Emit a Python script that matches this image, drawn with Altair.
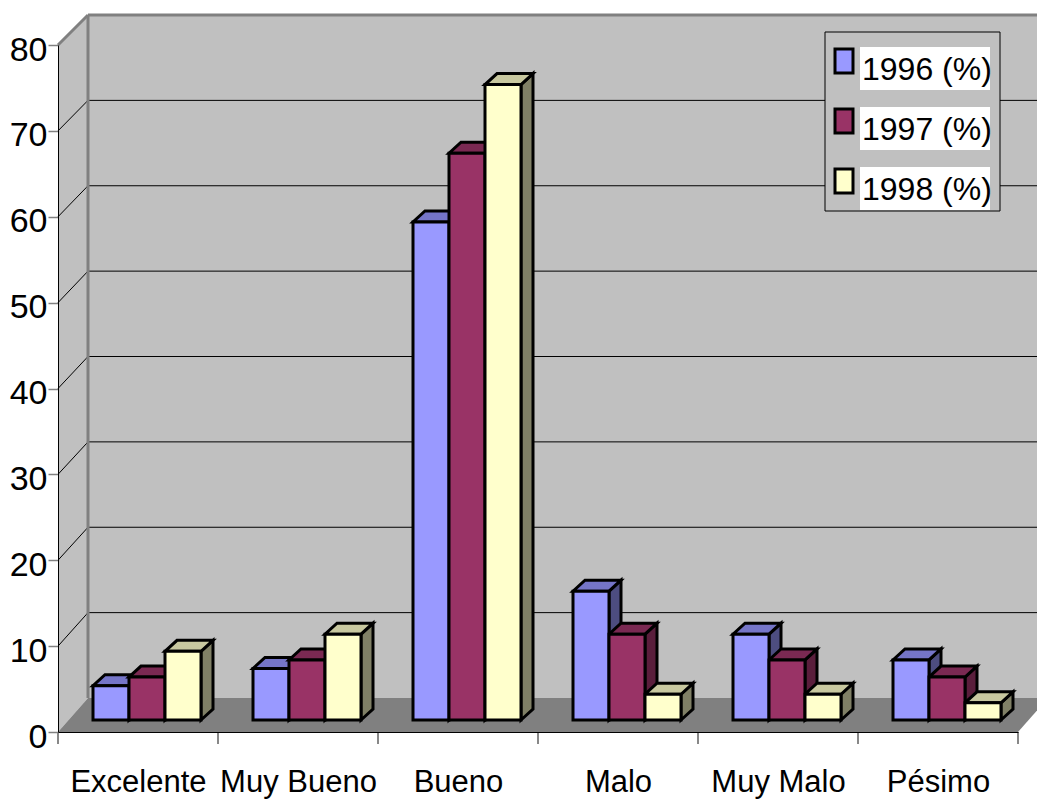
import altair as alt
import pandas as pd

# Survey answers per year (percent of respondents)
categories = ["Excelente", "Muy Bueno", "Bueno", "Malo", "Muy Malo", "Pésimo"]
years = ["1996 (%)", "1997 (%)", "1998 (%)"]
pct_1996 = [4, 6, 58, 15, 10, 7]
pct_1997 = [5, 7, 66, 10, 7, 5]
pct_1998 = [8, 10, 74, 3, 3, 2]
series = [pct_1996, pct_1997, pct_1998]
y_ticks = [0, 10, 20, 30, 40, 50, 60, 70, 80]

# face colours: front, lit top, shaded side
face_front = ["#9999FF", "#993366", "#FFFFCC"]
face_top = ["#7575C8", "#7A2952", "#C8C8A0"]
face_side = ["#4D4D80", "#5A1E3C", "#808066"]

FONT = "Liberation Sans, Arial, sans-serif"
WALL = "#C0C0C0"
FLOOR = "#808080"
EDGE = "#808080"

W, H = 960, 687
Y_MAX = 80
KY = H / Y_MAX                 # pixels per percent
STEP = W / len(categories)     # pixels per category


def ux(px):
    return px / STEP


def uy(px):
    return px / KY


# depth of the back wall (slightly stronger perspective near the floor)
WALL_DX = 30


def wall_dy(v):
    return 30 + 4 * (1 - v / Y_MAX)


BAR_W = 36
BAR_SHIFT_X, BAR_SHIFT_Y = 9, 12   # bars stand in the middle of the floor depth
BAR_DX, BAR_DY = 12, 11            # depth of each block
GROUP_PAD = (STEP - BAR_W * len(years)) / 2
OUTLINE = 3

xs = alt.Scale(domain=[0, len(categories)], nice=False, zero=False)
ys = alt.Scale(domain=[0, Y_MAX], nice=False, zero=False)

label_expr = "[" + ",".join(f"'{c}'" for c in categories) + "][floor(datum.value)]"

x_axis = alt.Axis(values=[i + 0.5 for i in range(len(categories))],
                  labelExpr=label_expr, ticks=False, grid=False, title=None,
                  domainColor="black", domainWidth=1, labelFont=FONT,
                  labelFontSize=31, labelColor="black", labelPadding=59,
                  labelBaseline="alphabetic", labelFlush=False,
                  labelOverlap=False, zindex=1)
y_axis = alt.Axis(values=y_ticks, grid=False, title=None, tickColor="#808080",
                  tickSize=10, tickWidth=1.5, domainColor="black", domainWidth=1,
                  labelFont=FONT, labelFontSize=34, labelColor="black",
                  labelPadding=1, labelOffset=5, labelFlush=False, zindex=1)


def enc_x(field="x"):
    return alt.X(f"{field}:Q", scale=xs, axis=x_axis)


def enc_y(field="y"):
    return alt.Y(f"{field}:Q", scale=ys, axis=y_axis, stack=None)


# ---- 3-D block faces -------------------------------------------------------
front_rows, side_rows, top_rows = [], [], []
for i, cat in enumerate(categories):
    for k, year in enumerate(years):
        v = series[k][i]
        xl = i + ux(GROUP_PAD + BAR_SHIFT_X + k * BAR_W)
        xr = xl + ux(BAR_W)
        yb = uy(BAR_SHIFT_Y)
        yt = v + yb
        dx, dy = ux(BAR_DX), uy(BAR_DY)
        bid = f"{i}-{k}"
        front_rows.append(dict(cat=cat, year=year, value=v, x=xl, x2=xr,
                               y=yb, y2=yt, fill=face_front[k]))
        side_rows += [
            dict(id=bid, x=xr, y=yb, y2=yt, fill=face_side[k]),
            dict(id=bid, x=xr + dx, y=yb + dy, y2=yt + dy, fill=face_side[k]),
        ]
        top_rows += [
            dict(id=bid, x=xl, y=yt, y2=yt, fill=face_top[k]),
            dict(id=bid, x=xl + dx, y=yt, y2=yt + dy, fill=face_top[k]),
            dict(id=bid, x=xr, y=yt, y2=yt + dy, fill=face_top[k]),
            dict(id=bid, x=xr + dx, y=yt + dy, y2=yt + dy, fill=face_top[k]),
        ]

front_df = pd.DataFrame(front_rows)
side_df = pd.DataFrame(side_rows)
top_df = pd.DataFrame(top_rows)

# ---- walls and floor -------------------------------------------------------
x_back = ux(WALL_DX)
x_far = len(categories) + ux(60)
top_back = Y_MAX + uy(wall_dy(Y_MAX))
floor_back = uy(wall_dy(0))

back_wall = pd.DataFrame([dict(x=x_back, x2=x_far, y=floor_back, y2=top_back)])
left_wall = pd.DataFrame([
    dict(id="w", x=0, y=0, y2=Y_MAX),
    dict(id="w", x=x_back, y=floor_back, y2=top_back),
])
floor = pd.DataFrame([
    dict(id="f", x=0, y=0, y2=0),
    dict(id="f", x=x_back, y=0, y2=floor_back),
    dict(id="f", x=len(categories), y=0, y2=floor_back),
    dict(id="f", x=len(categories) + x_back, y=floor_back, y2=floor_back),
])

grid_rows = []
for v in y_ticks[1:-1]:
    vb = v + uy(wall_dy(v))
    grid_rows.append(dict(x=0, x2=x_back, y=v, y2=vb))
    grid_rows.append(dict(x=x_back, x2=x_far, y=vb, y2=vb))
grid_df = pd.DataFrame(grid_rows)

edge_df = pd.DataFrame([
    dict(x=x_back, x2=x_back, y=floor_back, y2=top_back),
    dict(x=x_back, x2=x_far, y=top_back, y2=top_back),
    dict(x=0, x2=x_back, y=Y_MAX, y2=top_back),
])

# category boundary ticks below the floor edge
tick_df = pd.DataFrame([dict(x=b, x2=b, y=0, y2=-uy(12))
                        for b in range(len(categories) + 1)])

back_layer = alt.Chart(back_wall).mark_rect(fill=WALL).encode(
    x=enc_x(), x2="x2:Q", y=enc_y(), y2="y2:Q")

left_layer = alt.Chart(left_wall).mark_area(fill=WALL, orient="vertical").encode(
    x=enc_x(), y=enc_y(), y2="y2:Q", detail="id:N")

floor_layer = alt.Chart(floor).mark_area(fill=FLOOR, orient="vertical").encode(
    x=enc_x(), y=enc_y(), y2="y2:Q", detail="id:N")

grid_layer = alt.Chart(grid_df).mark_rule(color="black", strokeWidth=1).encode(
    x=enc_x(), x2="x2:Q", y=enc_y(), y2="y2:Q")

edge_layer = alt.Chart(edge_df).mark_rule(color=EDGE, strokeWidth=3).encode(
    x=enc_x(), x2="x2:Q", y=enc_y(), y2="y2:Q")

tick_layer = alt.Chart(tick_df).mark_rule(color="#606060", strokeWidth=1.5).encode(
    x=enc_x(), x2="x2:Q", y=enc_y(), y2="y2:Q")

side_layer = alt.Chart(side_df).mark_area(
    orient="vertical", stroke="black", strokeWidth=OUTLINE, strokeJoin="miter"
).encode(x=enc_x(), y=enc_y(), y2="y2:Q", detail="id:N",
         color=alt.Color("fill:N", scale=None))

top_layer = alt.Chart(top_df).mark_area(
    orient="vertical", stroke="black", strokeWidth=OUTLINE, strokeJoin="miter"
).encode(x=enc_x(), y=enc_y(), y2="y2:Q", detail="id:N",
         color=alt.Color("fill:N", scale=None))

front_layer = alt.Chart(front_df).mark_rect(
    stroke="black", strokeWidth=OUTLINE, strokeJoin="miter"
).encode(
    x=enc_x(), x2="x2:Q", y=enc_y(), y2="y2:Q",
    color=alt.Color("fill:N", scale=None),
    tooltip=["cat:N", "year:N", "value:Q"],
)

# ---- legend box ------------------------------------------------------------
one = pd.DataFrame({"k": [0]})
legend_layers = [
    alt.Chart(one).mark_rect(fill=WALL, stroke="black", strokeWidth=1).encode(
        x=alt.value(767), x2=alt.value(942), y=alt.value(-13), y2=alt.value(166))
]
for k, year in enumerate(years):
    cy = 16 + 60 * k
    legend_layers.append(
        alt.Chart(one).mark_rect(fill="white").encode(
            x=alt.value(802), x2=alt.value(932),
            y=alt.value(cy - 14), y2=alt.value(cy + 29)))
    legend_layers.append(
        alt.Chart(one).mark_rect(fill=face_front[k], stroke="black",
                                 strokeWidth=OUTLINE).encode(
            x=alt.value(777), x2=alt.value(795),
            y=alt.value(cy - 12), y2=alt.value(cy + 12)))
    legend_layers.append(
        alt.Chart(one).mark_text(text=year, font=FONT, fontSize=32,
                                 align="left", baseline="alphabetic",
                                 color="black").encode(
            x=alt.value(804), y=alt.value(cy + 19)))

chart = alt.layer(
    back_layer, left_layer, floor_layer, grid_layer, edge_layer, tick_layer,
    side_layer, top_layer, front_layer, *legend_layers
).properties(
    width=W, height=H,
    autosize=alt.AutoSizeParams(type="none"),
    padding={"left": 58, "top": 45, "right": 19, "bottom": 71},
    background="white",
).configure_view(stroke=None)

chart.save("out.html", embed_options={"renderer": "svg", "actions": False})
